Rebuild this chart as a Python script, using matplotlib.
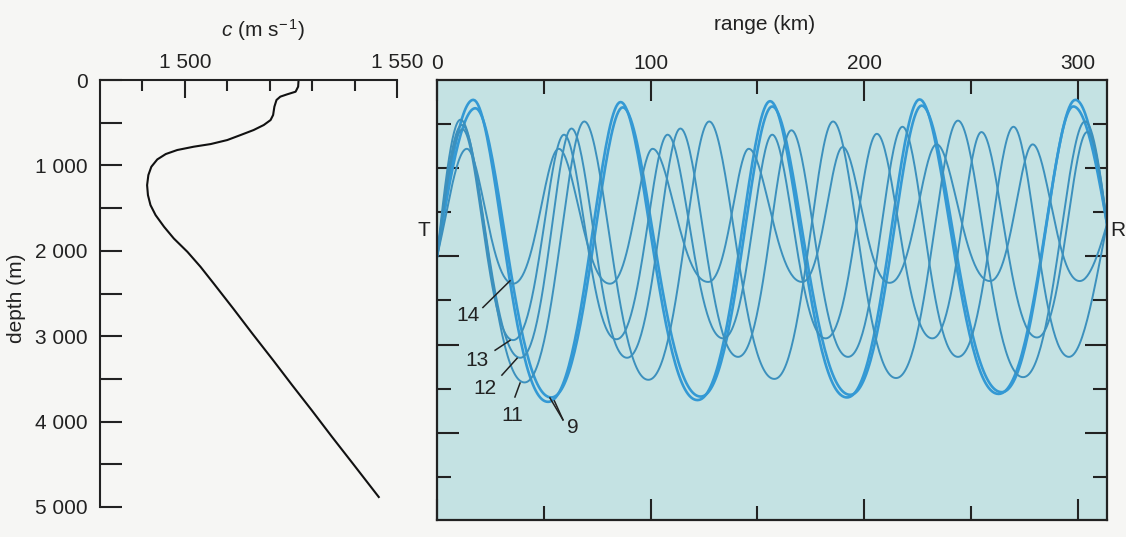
import matplotlib.pyplot as plt
import numpy as np

plt.rcParams['font.family'] = ['Liberation Sans', 'DejaVu Sans']
plt.rcParams['mathtext.fontset'] = 'custom'
plt.rcParams['mathtext.rm'] = 'Liberation Sans'
plt.rcParams['mathtext.it'] = 'Liberation Sans:italic'

# sound speed profile
depth_profile = [0, 78, 137, 168, 195, 234, 313, 410, 469, 527, 586, 645, 703, 750, 781,
                 820, 867, 930, 1016, 1113, 1231, 1348, 1465, 1582, 1719, 1856, 2012,
                 2188, 2383, 2676, 2969, 3281, 3574, 3867, 4180, 4492, 4883]
c_profile = [1526.8, 1526.7, 1526.1, 1524.1, 1522.5, 1521.6, 1521.1, 1520.8, 1520.2,
             1518.6, 1516.2, 1513.1, 1510.0, 1506.1, 1502.1, 1498.2, 1495.5, 1493.5,
             1492.1, 1491.4, 1491.1, 1491.3, 1491.9, 1493.1, 1495.1, 1497.4, 1500.6,
             1503.7, 1506.8, 1511.4, 1515.9, 1520.8, 1525.3, 1529.9, 1534.7, 1539.6,
             1545.7]

c_ticks = [1500, 1550]
c_ticklabels = ['1 500', '1 550']
depth_ticks = [0, 1000, 2000, 3000, 4000, 5000]
depth_ticklabels = ['0', '1 000', '2 000', '3 000', '4 000', '5 000']
range_ticks = [0, 100, 200, 300]

# eigenrays: turning points (range km, depth m), source T and receiver R
src_depth = 2000
rcv_range = 313.8
rcv_depth = 1634
ray_names = ['9', '9', '11', '12', '13', '14']
ray_tp_x = [
    [17, 52, 86, 122, 156, 192, 226, 263, 299],
    [18, 53.5, 87, 123.5, 157, 193.5, 227, 264.5, 298],
    [11, 41, 69, 99, 127.5, 158, 185.5, 215, 244, 274.5, 303.5],
    [11.7, 39, 63, 89, 114, 141, 166, 192.5, 218, 244, 270, 296],
    [12, 35.6, 59.5, 84, 108, 134, 157, 182, 206, 232, 255, 281, 304.5],
    [14, 35.6, 57, 81, 101, 127, 146, 171, 190, 212, 234, 259, 279, 301],
]
ray_tp_z = [
    [225, 3650, 250, 3630, 240, 3600, 220, 3560, 225],
    [320, 3600, 310, 3590, 300, 3570, 290, 3540, 300],
    [450, 3430, 470, 3400, 470, 3390, 470, 3380, 460, 3370, 470],
    [510, 3150, 550, 3150, 550, 3140, 570, 3140, 530, 3140, 530, 3140],
    [560, 2950, 620, 2940, 620, 2930, 620, 2930, 610, 2930, 590, 2920, 590],
    [780, 2310, 780, 2310, 780, 2290, 780, 2290, 760, 2300, 730, 2280, 730, 2280],
]


def ray_path(tx, tz):
    # smooth arcs between the turning points, sharper at the top, rounder at the bottom
    xs, zs = [], []
    m = (tz[0] + tz[1]) / 2
    p0 = np.arccos((src_depth - m) / (tz[0] - m))
    ph = np.linspace(p0, 0, 30)
    xs += list(tx[0] - tx[0] * ph / p0)
    zs += list(m + (tz[0] - m) * np.cos(ph))
    u = np.linspace(0, 1, 50)
    for i in range(len(tx) - 1):
        m = (tz[i] + tz[i + 1]) / 2
        if tz[i] < tz[i + 1]:
            ph = np.pi * (u + 0.3 * u * (1 - u))
        else:
            ph = np.pi * (u - 0.3 * u * (1 - u))
        xs += list(tx[i] + (tx[i + 1] - tx[i]) * u)
        zs += list(m + (tz[i] - m) * np.cos(ph))
    m = (tz[-1] + tz[-2]) / 2
    pe = np.arccos((rcv_depth - m) / (tz[-1] - m))
    ph = np.linspace(0, pe, 30)
    xs += list(tx[-1] + (rcv_range - tx[-1]) * ph / pe)
    zs += list(m + (tz[-1] - m) * np.cos(ph))
    return xs, zs


fig = plt.figure(figsize=(11.26, 5.37), dpi=100)
fig.patch.set_facecolor('#f6f6f4')

# left panel: sound speed
ax1 = fig.add_axes([100 / 1126, 1 - 507 / 537, 297 / 1126, 427 / 537])
ax1.set_facecolor('none')
ax1.plot(c_profile, depth_profile, color='#111111', linewidth=1.5)
ax1.set_xlim(1480, 1550)
ax1.set_ylim(5000, 0)
for s in ['right', 'bottom']:
    ax1.spines[s].set_visible(False)
for s in ['left', 'top']:
    ax1.spines[s].set_linewidth(1.5)
    ax1.spines[s].set_color('#222222')
ax1.xaxis.tick_top()
ax1.set_xticks(c_ticks)
ax1.set_xticklabels(c_ticklabels)
ax1.set_xticks([1490, 1510, 1520, 1530, 1540], minor=True)
ax1.set_yticks(depth_ticks)
ax1.set_yticklabels(depth_ticklabels)
ax1.set_yticks([500, 1500, 2500, 3500, 4500], minor=True)
ax1.tick_params(axis='x', which='major', direction='in', length=13, width=1.5, pad=6,
                labelsize=15, colors='#222222')
ax1.tick_params(axis='x', which='minor', direction='in', length=8, width=1.5, colors='#222222')
ax1.tick_params(axis='y', which='both', direction='in', length=16, width=1.5, pad=9,
                labelsize=15, colors='#222222')
fig.text(263 / 1126, 1 - 30 / 537, r'$c$ (m s$^{-\,1}$)', fontsize=15, ha='center', va='center',
         color='#222222')
fig.text(17 / 1126, 1 - 298 / 537, 'depth (m)', fontsize=15, ha='center', va='center',
         rotation=90, color='#222222')

# right panel: ray paths
ax2 = fig.add_axes([437 / 1126, 1 - 520 / 537, 670 / 1126, 440 / 537])
ax2.set_facecolor('#c4e2e3')
for name, tx, tz in zip(ray_names, ray_tp_x, ray_tp_z):
    xs, zs = ray_path(tx, tz)
    if name == '9':
        ax2.plot(xs, zs, color='#3499d4', linewidth=1.9)
    else:
        ax2.plot(xs, zs, color='#3c90bd', linewidth=1.4)
ax2.set_xlim(0, rcv_range)
ax2.set_ylim(4990, 0)
for s in ax2.spines.values():
    s.set_linewidth(1.6)
    s.set_color('#222222')
ax2.set_xticks(range_ticks)
ax2.set_xticks([50, 150, 250], minor=True)
ax2.set_yticks([1000, 2000, 3000, 4000])
ax2.set_yticks([500, 1500, 2500, 3500, 4500], minor=True)
ax2.set_yticklabels([])
ax2.tick_params(axis='x', which='both', top=True, bottom=True, labeltop=True, labelbottom=False,
                direction='in', width=1.5, colors='#222222', labelsize=15, pad=5)
ax2.tick_params(axis='x', which='major', length=15)
ax2.tick_params(axis='x', which='minor', length=10)
ax2.tick_params(axis='y', which='both', left=True, right=True, direction='in', width=1.5,
                colors='#222222')
ax2.tick_params(axis='y', which='major', length=16)
ax2.tick_params(axis='y', which='minor', length=10)
fig.text(765 / 1126, 1 - 24 / 537, 'range (km)', fontsize=15, ha='center', va='center',
         color='#222222')
fig.text(424 / 1126, 1 - 230 / 537, 'T', fontsize=15, ha='center', va='center', color='#222222')
fig.text(1118 / 1126, 1 - 230 / 537, 'R', fontsize=15, ha='center', va='center', color='#222222')

# ray labels with leader lines
lab_text = ['14', '13', '12', '11', '9']
lab_pos = [(14.5, 2670), (18.7, 3180), (22.5, 3494), (35.1, 3800), (63.7, 3945)]
lab_start = [(21.5, 2580), (27.2, 3065), (30.4, 3347), (36.5, 3595), (59.0, 3854)]
lab_tip = [(34.2, 2277), (34.2, 2953), (37.5, 3156), (38.9, 3437), (52.9, 3606)]
for t, p, s, e in zip(lab_text, lab_pos, lab_start, lab_tip):
    ax2.text(p[0], p[1], t, fontsize=15, ha='center', va='center', color='#222222')
    ax2.plot([s[0], e[0]], [s[1], e[1]], color='#222222', linewidth=1.1)
ax2.plot([59.0, 55.0], [3854, 3640], color='#222222', linewidth=1.1)

fig.savefig('out.png', dpi=100, facecolor=fig.get_facecolor())
